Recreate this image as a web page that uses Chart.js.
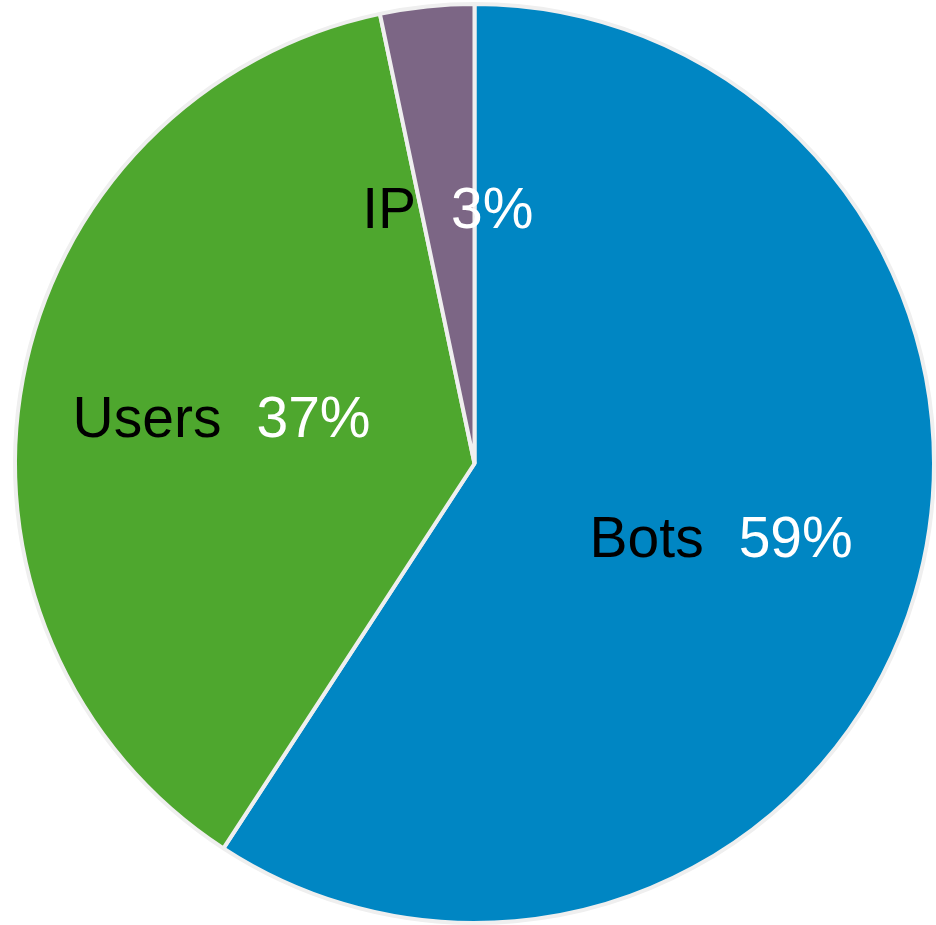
<!DOCTYPE html>
<html>
<head>
<meta charset="utf-8">
<script src="https://cdn.jsdelivr.net/npm/chart.js@4"></script>
<style>
  html, body { margin: 0; padding: 0; background: #fff; }
  canvas { display: block; }
</style>
</head>
<body>
<canvas id="myPie" width="936" height="925"></canvas>
<script>
// data
const categories = ['Bots', 'Users', 'IP'];
const shares = [59.2, 37.5, 3.3];
const sliceColors = ['#0086c3', '#4ea72e', '#7c6685'];

// labels drawn inside slices: "Name  NN%"
const sliceLabels = {
  id: 'sliceLabels',
  afterDatasetsDraw(chart) {
    const ctx = chart.ctx;
    const meta = chart.getDatasetMeta(0);
    const total = shares.reduce((a, b) => a + b, 0);
    const size = 57;
    ctx.save();
    ctx.font = size + 'px "Liberation Sans", Arial, sans-serif';
    ctx.textBaseline = 'alphabetic';
    ctx.textAlign = 'left';
    meta.data.forEach((arc, i) => {
      const p = arc.getProps(['x', 'y', 'startAngle', 'endAngle', 'outerRadius'], true);
      const mid = (p.startAngle + p.endAngle) / 2;
      const r = p.outerRadius * 0.56;
      const cx = p.x + Math.cos(mid) * r;
      const cy = p.y + Math.sin(mid) * r;
      const name = categories[i];
      const pct = Math.floor(shares[i] / total * 100) + '%';
      const gap = 35;
      const w1 = ctx.measureText(name).width;
      const w2 = ctx.measureText(pct).width;
      let x = cx - (w1 + gap + w2) / 2;
      const y = cy + size * 0.36;
      ctx.fillStyle = '#000';
      ctx.fillText(name, x, y);
      ctx.fillStyle = '#fff';
      ctx.fillText(pct, x + w1 + gap, y);
    });
    ctx.restore();
  }
};

const config = {
  type: 'pie',
  data: {
    labels: categories,
    datasets: [{
      data: shares,
      backgroundColor: sliceColors,
      borderColor: '#efefef',
      borderWidth: 4
    }]
  },
  options: {
    responsive: false,
    animation: false,
    layout: {
      padding: { left: 13, right: 0, top: 2, bottom: 0 }
    },
    plugins: {
      legend: { display: false },
      tooltip: { enabled: false }
    }
  },
  plugins: [sliceLabels]
};

const myPie = new Chart(document.getElementById('myPie'), config);
</script>
</body>
</html>
